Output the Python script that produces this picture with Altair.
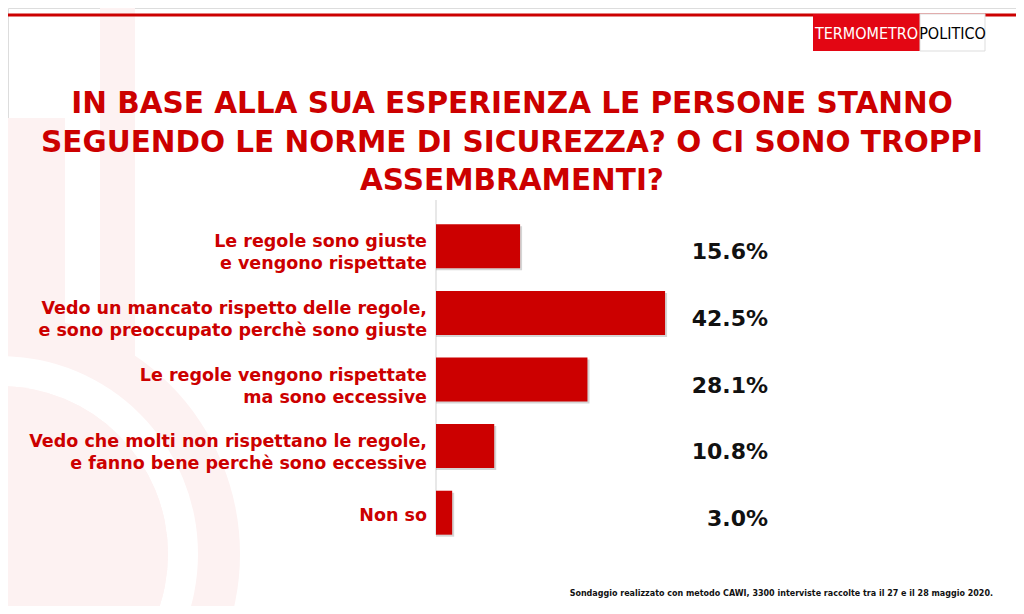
import altair as alt
import pandas as pd

# ---- data ----
categories = [
    "Le regole sono giuste\ne vengono rispettate",
    "Vedo un mancato rispetto delle regole,\ne sono preoccupato perchè sono giuste",
    "Le regole vengono rispettate\nma sono eccessive",
    "Vedo che molti non rispettano le regole,\ne fanno bene perchè sono eccessive",
    "Non so",
]
values = [15.6, 42.5, 28.1, 10.8, 3.0]
value_labels = ["15.6%", "42.5%", "28.1%", "10.8%", "3.0%"]

title_lines = [
    "IN BASE ALLA SUA ESPERIENZA LE PERSONE STANNO",
    "SEGUENDO LE NORME DI SICUREZZA? O CI SONO TROPPI",
    "ASSEMBRAMENTI?",
]
footer_text = "Sondaggio realizzato con metodo CAWI, 3300 interviste raccolte tra il 27 e il 28 maggio 2020."
logo_red = "TERMOMETRO"
logo_white = "POLITICO"

RED = "#cc0000"
PINK = "#fdf2f2"
W, H = 1008, 598
FONT = "DejaVu Sans"

parts = [c.split("\n") for c in categories]
df = pd.DataFrame({
    "cat": categories,
    "val": values,
    "lab": value_labels,
    "l1": [p[0] for p in parts],
    "l2": [p[1] if len(p) > 1 else "" for p in parts],
    "n": [len(p) for p in parts],
})

xs = alt.Scale(domain=[0, 100], range=[428, 967])
ys = alt.Scale(domain=categories, range=[205, 538], paddingInner=0.34, paddingOuter=0.17)
Y = alt.Y("cat:N", scale=ys, axis=None)

base = alt.Chart(df)
one = pd.DataFrame({"k": [0]})

# watermark (faint thermometer shape)
wm_disc = alt.Chart(one).mark_arc(color=PINK, radius=240, theta=0, theta2=6.2832).encode(
    x=alt.value(-8), y=alt.value(546))
wm_a = alt.Chart(one).mark_rect(color=PINK).encode(
    x=alt.value(-8), x2=alt.value(57), y=alt.value(110), y2=alt.value(H))
wm_b = alt.Chart(one).mark_rect(color=PINK).encode(
    x=alt.value(92), x2=alt.value(127), y=alt.value(-8), y2=alt.value(400))
wm_ring = alt.Chart(one).mark_arc(color="white", radius=198, radius2=168, theta=0, theta2=6.2832).encode(
    x=alt.value(-8), y=alt.value(546))
wm_inner = alt.Chart(one).mark_arc(color=PINK, radius=168, theta=0, theta2=6.2832).encode(
    x=alt.value(-8), y=alt.value(546))

# top red line
top_line = alt.Chart(one).mark_rule(color=RED, strokeWidth=3).encode(
    x=alt.value(-8), x2=alt.value(W + 8), y=alt.value(7))

# logo
logo_r = alt.Chart(one).mark_rect(color="#e30613").encode(
    x=alt.value(805), x2=alt.value(912), y=alt.value(6), y2=alt.value(43))
logo_w = alt.Chart(one).mark_rect(color="white", stroke="#dddddd", strokeWidth=1).encode(
    x=alt.value(912), x2=alt.value(977), y=alt.value(6), y2=alt.value(43))
LOGO_FONT = "DejaVu Sans Condensed, Liberation Sans, sans-serif"
logo_t1 = alt.Chart(pd.DataFrame({"t": [logo_red]})).mark_text(
    font=LOGO_FONT, fontSize=16, color="white", align="center", baseline="middle"
).encode(text="t:N", x=alt.value(858.5), y=alt.value(26))
logo_t2 = alt.Chart(pd.DataFrame({"t": [logo_white]})).mark_text(
    font=LOGO_FONT, fontSize=16, color="black", align="center", baseline="middle"
).encode(text="t:N", x=alt.value(944.5), y=alt.value(26))

# title
tdf = pd.DataFrame({"t": title_lines, "i": [0, 1, 2]})
title = alt.Chart(tdf).mark_text(
    font=FONT, fontSize=29.5, fontWeight="bold", color=RED, align="center", baseline="middle"
).encode(
    text="t:N",
    x=alt.value(504),
    y=alt.Y("i:Q", scale=alt.Scale(domain=[0, 2], range=[96, 173]), axis=None),
)

# axis line
axis_line = alt.Chart(one).mark_rule(color="#e0e0e0", strokeWidth=1.5).encode(
    x=alt.value(428), y=alt.value(192), y2=alt.value(527))

shadow = base.mark_bar(color="#888888", opacity=0.35, xOffset=2, yOffset=2).encode(
    x=alt.X("val:Q", scale=xs, axis=None), x2=alt.datum(0), y=Y)
bars = base.mark_bar(color=RED).encode(
    x=alt.X("val:Q", scale=xs, axis=None), x2=alt.datum(0), y=Y)

lab_style = dict(font=FONT, fontSize=17.5, fontWeight="bold", color=RED, align="right", baseline="middle")
lab_two_1 = base.transform_filter("datum.n == 2").mark_text(dy=-4, **lab_style).encode(
    text="l1:N", x=alt.value(419), y=Y)
lab_two_2 = base.transform_filter("datum.n == 2").mark_text(dy=18, **lab_style).encode(
    text="l2:N", x=alt.value(419), y=Y)
lab_one = base.transform_filter("datum.n == 1").mark_text(dy=3, **lab_style).encode(
    text="l1:N", x=alt.value(419), y=Y)

val_labels = base.mark_text(
    font=FONT, fontSize=22, fontWeight="bold", color="#111111", align="right", baseline="middle", dy=6,
).encode(text="lab:N", x=alt.value(760), y=Y)

footer = alt.Chart(pd.DataFrame({"t": [footer_text]})).mark_text(
    font=FONT, fontSize=8, fontWeight="bold", color="#111111", align="right", baseline="middle"
).encode(text="t:N", x=alt.value(985), y=alt.value(586))

chart = alt.layer(
    wm_disc, wm_a, wm_b, wm_ring, wm_inner, top_line, logo_r, logo_w, logo_t1, logo_t2, title,
    axis_line, shadow, bars, lab_two_1, lab_two_2, lab_one, val_labels, footer,
).resolve_scale(y="independent").properties(
    width=W, height=H, autosize=alt.AutoSizeParams(type="none"), padding=0,
).configure_view(stroke=None).configure(background="white")

chart.save("out.html", embed_options={"renderer": "svg", "actions": False})
